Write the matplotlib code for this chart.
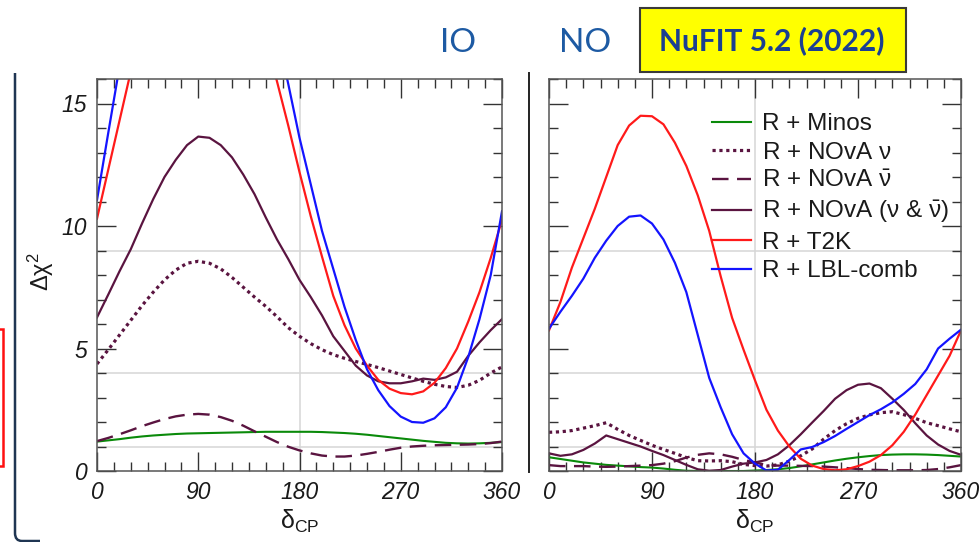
import matplotlib
matplotlib.use("Agg")
import matplotlib.pyplot as plt
from matplotlib.ticker import MultipleLocator
from matplotlib.patches import Rectangle, PathPatch
from matplotlib.path import Path
from matplotlib.lines import Line2D

plt.rcParams["font.family"] = ["Liberation Sans", "DejaVu Sans"]
plt.rcParams["mathtext.fontset"] = "custom"
plt.rcParams["mathtext.rm"] = "Liberation Sans"
plt.rcParams["mathtext.it"] = "Liberation Sans:italic"
plt.rcParams["mathtext.bf"] = "Liberation Sans:bold"

# ---------------------------------------------------------------- data
delta_cp = list(range(0, 361, 10))

# Inverted ordering (IO)
io_minos = [1.20, 1.25, 1.30, 1.36, 1.41, 1.45, 1.48, 1.51, 1.53, 1.54, 1.55, 1.56,
            1.57, 1.58, 1.59, 1.60, 1.60, 1.60, 1.60, 1.60, 1.59, 1.57, 1.55, 1.52,
            1.48, 1.43, 1.38, 1.33, 1.28, 1.23, 1.19, 1.15, 1.13, 1.12, 1.13, 1.15, 1.18]
io_nova_nu = [4.37, 4.95, 5.55, 6.15, 6.75, 7.30, 7.80, 8.20, 8.48, 8.56, 8.48, 8.25,
              7.90, 7.50, 7.10, 6.72, 6.30, 5.85, 5.50, 5.20, 4.95, 4.75, 4.60, 4.47,
              4.35, 4.22, 4.08, 3.94, 3.80, 3.66, 3.54, 3.45, 3.41, 3.50, 3.70, 4.00, 4.25]
io_nova_nubar = [1.22, 1.35, 1.50, 1.66, 1.83, 1.98, 2.12, 2.23, 2.30, 2.33, 2.30, 2.20,
                 2.05, 1.85, 1.62, 1.40, 1.18, 0.99, 0.84, 0.72, 0.63, 0.59, 0.59, 0.63,
                 0.70, 0.78, 0.87, 0.95, 1.00, 1.03, 1.05, 1.06, 1.07, 1.08, 1.10, 1.14, 1.20]
io_nova_both = [6.27, 7.20, 8.15, 9.05, 10.10, 11.10, 12.00, 12.70, 13.30, 13.65, 13.60, 13.30,
                12.80, 12.10, 11.30, 10.35, 9.45, 8.65, 7.80, 7.10, 6.35, 5.50, 4.90, 4.30,
                3.90, 3.66, 3.58, 3.58, 3.66, 3.77, 3.72, 3.82, 4.05, 4.70, 5.25, 5.75, 6.20]
io_t2k = [10.30, 12.30, 14.30, 16.30, 18.10, 19.70, 21.00, 22.00, 22.60, 22.90, 22.80, 22.30,
          21.50, 20.40, 19.10, 17.60, 15.90, 14.10, 12.20, 10.40, 8.75, 7.15, 5.95, 5.00,
          4.30, 3.72, 3.36, 3.18, 3.13, 3.25, 3.60, 4.20, 5.00, 6.10, 7.30, 8.70, 10.25]
io_lbl = [11.06, 13.80, 16.50, 19.20, 21.50, 23.50, 25.00, 26.10, 26.70, 26.90, 26.70, 26.00,
          24.90, 23.40, 21.70, 19.90, 17.90, 15.80, 13.60, 11.70, 9.80, 8.25, 6.70, 5.35,
          4.15, 3.30, 2.65, 2.22, 2.00, 1.97, 2.15, 2.60, 3.40, 4.65, 6.20, 8.00, 10.60]

# Normal ordering (NO)
no_minos = [0.56, 0.49, 0.42, 0.35, 0.30, 0.25, 0.22, 0.19, 0.16, 0.14, 0.10, 0.05,
            0.01, 0.00, 0.00, 0.00, 0.00, 0.00, 0.02, 0.04, 0.07, 0.12, 0.19, 0.27,
            0.35, 0.43, 0.50, 0.56, 0.61, 0.65, 0.67, 0.68, 0.68, 0.67, 0.65, 0.62, 0.59]
no_nova_nu = [1.58, 1.60, 1.65, 1.75, 1.85, 1.97, 1.70, 1.45, 1.25, 1.05, 0.88, 0.72,
              0.55, 0.42, 0.41, 0.42, 0.38, 0.27, 0.22, 0.20, 0.25, 0.40, 0.62, 0.90,
              1.30, 1.65, 1.93, 2.15, 2.29, 2.38, 2.42, 2.30, 2.15, 1.97, 1.85, 1.72, 1.60]
no_nova_nubar = [0.24, 0.20, 0.20, 0.20, 0.18, 0.17, 0.18, 0.20, 0.22, 0.24, 0.30, 0.40,
                 0.55, 0.66, 0.72, 0.68, 0.58, 0.45, 0.35, 0.25, 0.22, 0.22, 0.21, 0.20,
                 0.18, 0.15, 0.12, 0.08, 0.05, 0.04, 0.03, 0.03, 0.03, 0.04, 0.08, 0.15, 0.24]
no_nova_both = [0.72, 0.62, 0.68, 0.86, 1.12, 1.45, 1.30, 1.15, 1.00, 0.82, 0.65, 0.45,
                0.25, 0.07, 0.01, 0.04, 0.18, 0.30, 0.35, 0.45, 0.68, 1.05, 1.50, 1.98,
                2.45, 2.95, 3.30, 3.52, 3.57, 3.38, 2.95, 2.49, 1.95, 1.45, 1.08, 0.82, 0.66]
no_t2k = [5.74, 6.90, 8.30, 9.50, 10.70, 12.00, 13.30, 14.10, 14.50, 14.48, 14.15, 13.40,
          12.45, 11.25, 9.80, 7.95, 6.25, 4.95, 3.70, 2.50, 1.65, 1.00, 0.50, 0.22,
          0.08, 0.03, 0.07, 0.20, 0.38, 0.65, 1.05, 1.60, 2.30, 3.10, 3.90, 4.70, 5.74]
no_lbl = [5.81, 6.50, 7.15, 7.85, 8.70, 9.40, 10.00, 10.38, 10.43, 10.10, 9.45, 8.50,
          7.30, 5.55, 3.80, 2.60, 1.50, 0.72, 0.30, 0.02, 0.05, 0.45, 0.88, 0.98,
          1.18, 1.43, 1.72, 2.00, 2.28, 2.52, 2.80, 3.15, 3.55, 4.15, 5.00, 5.40, 5.77]

series_labels = [
    "R + Minos",
    r"R + NOvA $\mathrm{\nu}$",
    r"R + NOvA $\mathrm{\bar{\nu}}$",
    r"R + NOvA ($\mathrm{\nu}$ & $\mathrm{\bar{\nu}}$)",
    "R + T2K",
    "R + LBL-comb",
]
io_series = [io_minos, io_nova_nu, io_nova_nubar, io_nova_both, io_t2k, io_lbl]
no_series = [no_minos, no_nova_nu, no_nova_nubar, no_nova_both, no_t2k, no_lbl]

x_ticks = [0, 90, 180, 270, 360]
x_tick_labels = ["0", "90", "180", "270", "360"]
y_ticks = [0, 5, 10, 15]
y_tick_labels = ["0", "5", "10", "15"]
sigma_levels = [1, 4, 9]
panel_titles = ["IO", "NO"]
badge_text = "NuFIT 5.2 (2022)"

# ---------------------------------------------------------------- styles
maroon = "#5a1440"
styles = [
    dict(color="#0a8a0a", ls="-", lw=1.5),
    dict(color=maroon, ls=(0, (1, 1.15)), lw=2.3),
    dict(color=maroon, ls=(0, (7, 3.6)), lw=1.7),
    dict(color=maroon, ls="-", lw=1.6),
    dict(color="#ff1a1a", ls="-", lw=1.6),
    dict(color="#1414ff", ls="-", lw=1.6),
]

W, H = 980, 542
fig = plt.figure(figsize=(W / 100, H / 100), dpi=100)


def px_rect(x0, y0, x1, y1):
    return [x0 / W, 1 - y1 / H, (x1 - x0) / W, (y1 - y0) / H]


def fx(x):
    return x / W


def fy(y):
    return 1 - y / H


ax_io = fig.add_axes(px_rect(97, 79, 502, 471))
ax_no = fig.add_axes(px_rect(549, 79, 961, 471))

tick_color = "#333333"
for ax, data, show_y in ((ax_io, io_series, True), (ax_no, no_series, False)):
    for lev in sigma_levels:
        ax.axhline(lev, color="#d6d6d6", lw=1.1, zorder=0.5)
    ax.axvline(180, color="#d6d6d6", lw=1.1, zorder=0.5)
    for vals, st, lab in zip(data, styles, series_labels):
        ax.plot(delta_cp, vals, color=st["color"], linestyle=st["ls"],
                linewidth=st["lw"], label=lab, zorder=2)
    ax.set_xlim(0, 360)
    ax.set_ylim(0, 16)
    ax.set_xticks(x_ticks)
    ax.set_xticklabels(x_tick_labels, fontstyle="italic", fontsize=16.5, color="#1a1a1a")
    ax.xaxis.set_minor_locator(MultipleLocator(15))
    ax.set_yticks(y_ticks)
    if show_y:
        ax.set_yticklabels(y_tick_labels, fontstyle="italic", fontsize=16.5, color="#1a1a1a")
    ax.yaxis.set_minor_locator(MultipleLocator(1))
    ax.tick_params(which="both", direction="in", top=True, right=True,
                   color=tick_color, width=1.0, labelleft=show_y)
    ax.tick_params(which="major", length=13.5, pad=7)
    ax.tick_params(which="minor", length=6.5)
    for sp in ax.spines.values():
        sp.set_color("#555555")
        sp.set_linewidth(1.1)
    fig.text(fx((ax.get_position().x0 * W + ax.get_position().x1 * W) / 2), fy(521),
             r"$\mathrm{\delta_{CP}}$", ha="center", va="center", fontsize=18,
             color="#1a1a1a")

fig.text(fx(41), fy(272), r"$\mathrm{\Delta\chi}^{2}$", rotation=90, ha="center",
         va="center", fontsize=17, color="#1a1a1a")

leg = ax_no.legend(loc="upper left", bbox_to_anchor=(fx(712), fy(113)),
                   bbox_transform=fig.transFigure, frameon=False, fontsize=17.5,
                   handlelength=1.6, handletextpad=0.45, labelspacing=0.27,
                   borderpad=0, borderaxespad=0)
for t in leg.get_texts():
    t.set_color("#1a1a1a")

# ---------------------------------------------------------------- page decorations
title_color = "#1d5aa3"
fig.text(fx(458), fy(43), panel_titles[0], ha="center", va="center",
         fontsize=24, color=title_color, family="Lato")
fig.text(fx(585), fy(43), panel_titles[1], ha="center", va="center",
         fontsize=24, color=title_color, family="Lato")

fig.patches.append(Rectangle((fx(640), fy(72)), fx(906) - fx(640), fy(8) - fy(72),
                             transform=fig.transFigure, facecolor="#ffff00",
                             edgecolor="#3a3a3a", lw=1.5, zorder=3))
fig.text(fx(772), fy(41), badge_text, ha="center", va="center", fontsize=21.5,
         fontweight="bold", color="#1b3f91", family="Lato", zorder=4)

# divider between the two panels
fig.lines.append(Line2D([fx(529), fx(529)], [fy(73), fy(472)], transform=fig.transFigure,
                        color="#222222", lw=1.4))

# slide frame on the left edge with rounded bottom corner
frame = Path([(fx(15), fy(73)), (fx(15), fy(533)), (fx(15), fy(541)), (fx(22), fy(541)),
              (fx(40), fy(541))],
             [Path.MOVETO, Path.LINETO, Path.CURVE3, Path.CURVE3, Path.LINETO])
fig.patches.append(PathPatch(frame, transform=fig.transFigure, facecolor="none",
                             edgecolor="#1f3552", lw=1.8))

# red marker box clipped at the left edge
fig.patches.append(Rectangle((fx(-12), fy(466)), fx(14.5), fy(329) - fy(466),
                             transform=fig.transFigure, facecolor="none",
                             edgecolor="#ff1010", lw=1.8))

fig.savefig("out.png", dpi=100)
